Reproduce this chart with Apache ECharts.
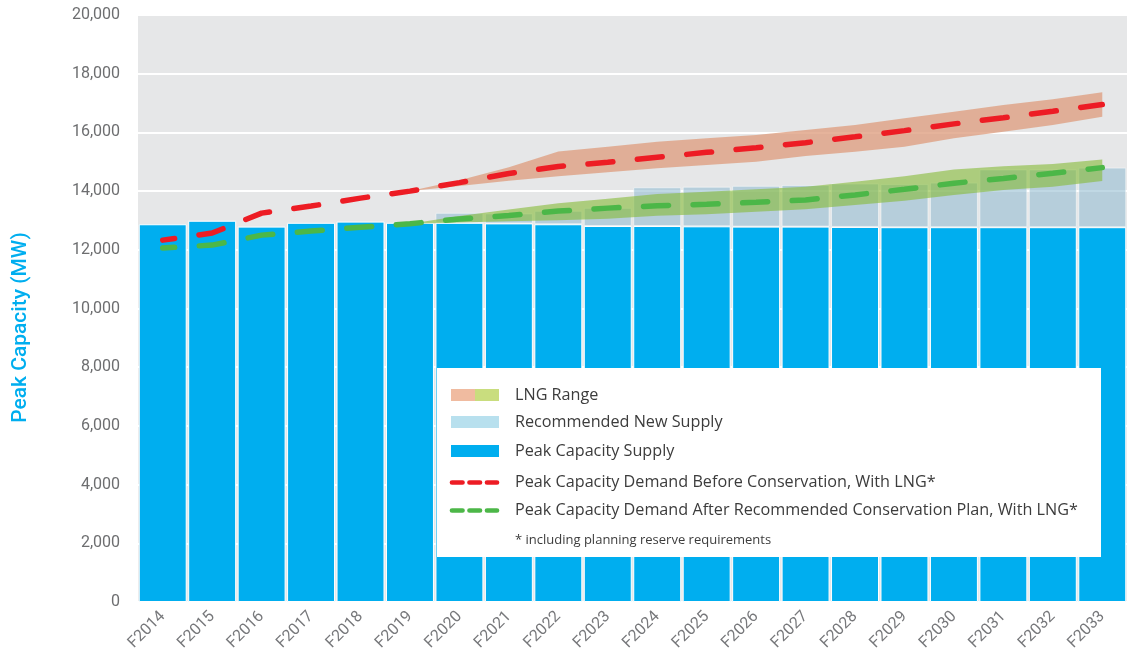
<!DOCTYPE html>
<html>
<head>
<meta charset="utf-8">
<script src="https://cdn.jsdelivr.net/npm/echarts@6/dist/echarts.min.js"></script>
<style>
  html, body { margin: 0; padding: 0; background: #fff; }
  #chart { width: 1131px; height: 658px; }
</style>
</head>
<body>
<div id="chart"></div>
<script>
// fiscal years
var categories = ['F2014', 'F2015', 'F2016', 'F2017', 'F2018', 'F2019', 'F2020', 'F2021', 'F2022', 'F2023',
  'F2024', 'F2025', 'F2026', 'F2027', 'F2028', 'F2029', 'F2030', 'F2031', 'F2032', 'F2033'];

// existing peak capacity supply (MW)
var supply = [12870, 12990, 12790, 12920, 12960, 12920, 12920, 12900, 12870, 12810,
  12810, 12800, 12790, 12790, 12780, 12770, 12770, 12770, 12770, 12770];

// supply incl. recommended new supply (MW)
var newSupply = [null, null, null, null, null, null, 13260, 13240, 13330, 13430,
  14130, 14150, 14180, 14210, 14260, 14240, 14290, 14740, 14740, 14800];

// demand before conservation, with LNG
var demandBefore = [12330, 12570, 13250, 13490, 13760, 14000, 14290, 14600, 14840, 14980,
  15150, 15320, 15480, 15650, 15850, 16060, 16290, 16500, 16720, 16950];

// demand after recommended conservation plan, with LNG
var demandAfter = [12060, 12160, 12500, 12640, 12770, 12890, 13050, 13170, 13320, 13420,
  13500, 13550, 13620, 13700, 13870, 14060, 14270, 14430, 14610, 14800];

// LNG range around each demand line
var lngBeforeLow = [null, null, null, null, null, 14000, 14170, 14350, 14510, 14640,
  14780, 14890, 15000, 15200, 15340, 15510, 15800, 16020, 16250, 16530];
var lngBeforeHigh = [null, null, null, null, null, 14000, 14370, 14810, 15350, 15510,
  15680, 15800, 15910, 16080, 16250, 16480, 16700, 16930, 17130, 17370];
var lngAfterLow = [null, null, null, null, null, 12890, 12930, 12970, 13010, 13060,
  13160, 13210, 13300, 13380, 13530, 13670, 13870, 14040, 14150, 14340];
var lngAfterHigh = [null, null, null, null, null, 12890, 13150, 13370, 13590, 13740,
  13900, 13980, 14060, 14150, 14320, 14510, 14740, 14850, 14920, 15080];

var FONT = 'Roboto';
var LFONT = 'Open Sans';
var BLUE = '#00aeef';
var RED = '#ed1c24';
var GREEN = '#4cb748';

function diff(hi, lo) {
  return hi.map(function (v, i) {
    return (v == null || lo[i] == null) ? '-' : v - lo[i];
  });
}
function dash(v) {
  return v.map(function (x) { return x == null ? '-' : x; });
}
var extraSupply = newSupply.map(function (v, i) {
  return v == null ? '-' : v - supply[i];
});

var chart = echarts.init(document.getElementById('chart'));

// custom legend box (the LNG icon is two-coloured)
var LX = 451, TX = 515;
var legend = [
  { type: 'rect', left: 437, top: 368, shape: { width: 664, height: 189 }, style: { fill: '#fff' }, z: 10 },
  { type: 'rect', left: LX, top: 389, shape: { width: 24, height: 12 }, style: { fill: '#f0bba0' }, z: 11 },
  { type: 'rect', left: LX + 24, top: 389, shape: { width: 24, height: 12 }, style: { fill: '#c9dd7e' }, z: 11 },
  { type: 'rect', left: LX, top: 416, shape: { width: 48, height: 12 }, style: { fill: '#b8e0ee' }, z: 11 },
  { type: 'rect', left: LX, top: 445, shape: { width: 48, height: 12 }, style: { fill: BLUE }, z: 11 },
  { type: 'line', shape: { x1: 452, y1: 482.5, x2: 497, y2: 482.5 },
    style: { stroke: RED, lineWidth: 4.7, lineDash: [10.5, 7], lineCap: 'round' }, z: 11 },
  { type: 'line', shape: { x1: 452, y1: 510.5, x2: 497, y2: 510.5 },
    style: { stroke: GREEN, lineWidth: 4.7, lineDash: [10.5, 7], lineCap: 'round' }, z: 11 }
];
var legendTexts = [
  ['LNG Range', 395],
  ['Recommended New Supply', 422],
  ['Peak Capacity Supply', 451],
  ['Peak Capacity Demand Before Conservation, With LNG*', 482.5],
  ['Peak Capacity Demand After Recommended Conservation Plan, With LNG*', 510.5]
];
legendTexts.forEach(function (t) {
  legend.push({
    type: 'text', x: TX, y: t[1], z: 11,
    style: { text: t[0], fill: '#3c3c3c', font: '16.2px "' + LFONT + '"', verticalAlign: 'middle' }
  });
});
legend.push({
  type: 'text', x: TX, y: 540.5, z: 11,
  style: { text: '* including planning reserve requirements', fill: '#3c3c3c', font: '13px "' + LFONT + '"', verticalAlign: 'middle' }
});

var option = {
  animation: false,
  textStyle: { fontFamily: FONT },
  grid: {
    left: 138, right: 4, top: 15, bottom: 56,
    outerBoundsMode: 'none',
    containLabel: false,
    show: true, backgroundColor: '#e6e7e8', borderWidth: 0
  },
  xAxis: {
    type: 'category',
    data: categories,
    axisLine: { show: false },
    axisTick: { show: false },
    axisLabel: { rotate: 45, margin: 12, color: '#77787b', fontSize: 16, fontFamily: FONT }
  },
  yAxis: {
    type: 'value',
    min: 0, max: 20000, interval: 2000,
    name: 'Peak Capacity (MW)',
    nameLocation: 'middle',
    nameGap: 107,
    nameTextStyle: { color: BLUE, fontSize: 21, fontWeight: 500, fontFamily: FONT, padding: [0, 38, 0, 0] },
    axisLine: { show: false },
    axisTick: { show: false },
    splitLine: { lineStyle: { color: '#fff', width: 2 } },
    axisLabel: {
      color: '#6d6e70', fontSize: 16, fontFamily: FONT, margin: 18, padding: [10, 0, 0, 0],
      formatter: function (v) { return v.toLocaleString('en-US'); }
    }
  },
  graphic: legend,
  series: [
    {
      name: 'Peak Capacity Supply', type: 'bar', stack: 'supply',
      data: supply, barCategoryGap: '3%',
      itemStyle: { color: BLUE, borderColor: '#fff', borderWidth: 1 }
    },
    {
      name: 'Recommended New Supply', type: 'bar', stack: 'supply',
      data: extraSupply,
      itemStyle: { color: 'rgba(150,190,210,0.6)', borderColor: 'rgba(255,255,255,0.5)', borderWidth: 1 }
    },
    {
      name: 'lngBeforeBase', type: 'line', stack: 'lngBefore', data: dash(lngBeforeLow),
      symbol: 'none', lineStyle: { width: 0, opacity: 0 }, silent: true
    },
    {
      name: 'LNG Range (before)', type: 'line', stack: 'lngBefore', data: diff(lngBeforeHigh, lngBeforeLow),
      symbol: 'none', lineStyle: { width: 0, opacity: 0 },
      areaStyle: { color: 'rgba(222,160,130,0.8)', opacity: 1 }
    },
    {
      name: 'lngAfterBase', type: 'line', stack: 'lngAfter', data: dash(lngAfterLow),
      symbol: 'none', lineStyle: { width: 0, opacity: 0 }, silent: true
    },
    {
      name: 'LNG Range (after)', type: 'line', stack: 'lngAfter', data: diff(lngAfterHigh, lngAfterLow),
      symbol: 'none', lineStyle: { width: 0, opacity: 0 },
      areaStyle: { color: 'rgba(135,188,60,0.62)', opacity: 1 }
    },
    {
      name: 'Peak Capacity Demand Before Conservation, With LNG*', type: 'line',
      data: demandBefore, symbol: 'none', z: 5,
      lineStyle: { color: RED, width: 5.5, type: [25, 24.6], dashOffset: 13, cap: 'round' }
    },
    {
      name: 'Peak Capacity Demand After Recommended Conservation Plan, With LNG*', type: 'line',
      data: demandAfter, symbol: 'none', z: 5,
      lineStyle: { color: GREEN, width: 5.5, type: [25, 24.6], dashOffset: 13, cap: 'round' }
    }
  ]
};

chart.setOption(option);
</script>
</body>
</html>
